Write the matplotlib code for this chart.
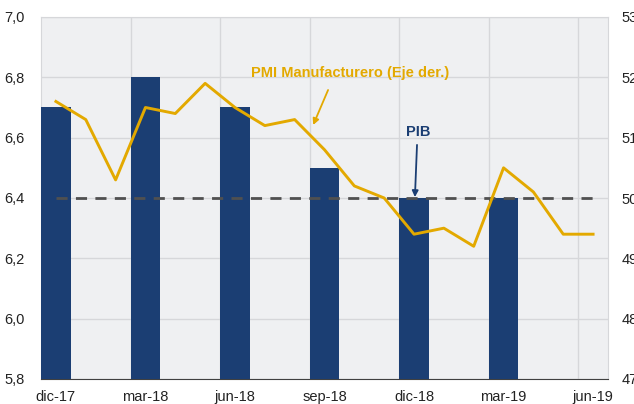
import matplotlib.pyplot as plt
import numpy as np

plt.rcParams['font.family'] = ['Liberation Sans', 'DejaVu Sans']

# meses dic-17 .. jun-19
meses = ['dic-17', 'ene-18', 'feb-18', 'mar-18', 'abr-18', 'may-18', 'jun-18',
         'jul-18', 'ago-18', 'sep-18', 'oct-18', 'nov-18', 'dic-18', 'ene-19',
         'feb-19', 'mar-19', 'abr-19', 'may-19', 'jun-19']
pmi = [51.6, 51.3, 50.3, 51.5, 51.4, 51.9, 51.5, 51.2, 51.3, 50.8,
       50.2, 50.0, 49.4, 49.5, 49.2, 50.5, 50.1, 49.4, 49.4]

# PIB trimestral
pib_idx = [0, 3, 6, 9, 12, 15]
pib = [6.7, 6.8, 6.7, 6.5, 6.4, 6.4]
ref_pib = 6.4

azul = '#1b3e73'
oro = '#e3a900'

fig = plt.figure(figsize=(6.34, 4.04), dpi=100)
ax = fig.add_axes([41 / 634, 1 - 379 / 404, 567 / 634, 362 / 404])
ax.set_facecolor('#eff0f2')

x = np.arange(len(meses))
ax.bar(pib_idx, pib, width=1.0, color=azul, zorder=3)
ax.plot([0, len(meses) - 1], [ref_pib, ref_pib], ls=(0, (4, 3)), color='#505050', lw=2, zorder=4)

ax.set_xlim(-0.5, len(meses) - 0.5)
ax.set_ylim(5.8, 7.0)
ax.set_yticks(np.arange(5.8, 7.01, 0.2))
ax.set_yticklabels([f'{v:.1f}'.replace('.', ',') for v in np.arange(5.8, 7.01, 0.2)])
ax.set_xticks(x[::3])
ax.set_xticklabels(meses[::3])
ax.set_xticks(np.arange(2.5, len(meses) - 1, 3), minor=True)
ax.grid(axis='y', color='#d6d7da', lw=1, zorder=0)
ax.grid(axis='x', which='minor', color='#d6d7da', lw=1, zorder=0)
ax.tick_params(which='both', length=0, labelsize=10.5, colors='#222222')
ax.tick_params(axis='x', pad=8)
ax.tick_params(axis='y', pad=12)
for s in ['top', 'left', 'right']:
    ax.spines[s].set_color('#d6d7da')
ax.spines['bottom'].set_color('#404040')

ax2 = ax.twinx()
ax2.plot(x, pmi, color=oro, lw=2.1, zorder=5)
ax2.set_ylim(47, 53)
ax2.set_yticks(range(47, 54))
ax2.tick_params(length=0, labelsize=10.5, colors='#222222', pad=10)
for s in ['top', 'left', 'right', 'bottom']:
    ax2.spines[s].set_visible(False)

ax.text(9.85, 6.814, 'PMI Manufacturero (Eje der.)', color=oro, fontsize=10.5,
        fontweight='bold', ha='center', va='center')
ax.annotate('', xy=(8.62, 6.642), xytext=(9.12, 6.758),
            arrowprops=dict(arrowstyle='-|>', color=oro, lw=1.3, mutation_scale=9,
                            shrinkA=0, shrinkB=0))
ax.text(12.13, 6.619, 'PIB', color=azul, fontsize=10.5,
        fontweight='bold', ha='center', va='center')
ax.annotate('', xy=(12.03, 6.403), xytext=(12.1, 6.576),
            arrowprops=dict(arrowstyle='-|>', color=azul, lw=1.3, mutation_scale=9,
                            shrinkA=0, shrinkB=0))

fig.savefig('out.png', dpi=100)
